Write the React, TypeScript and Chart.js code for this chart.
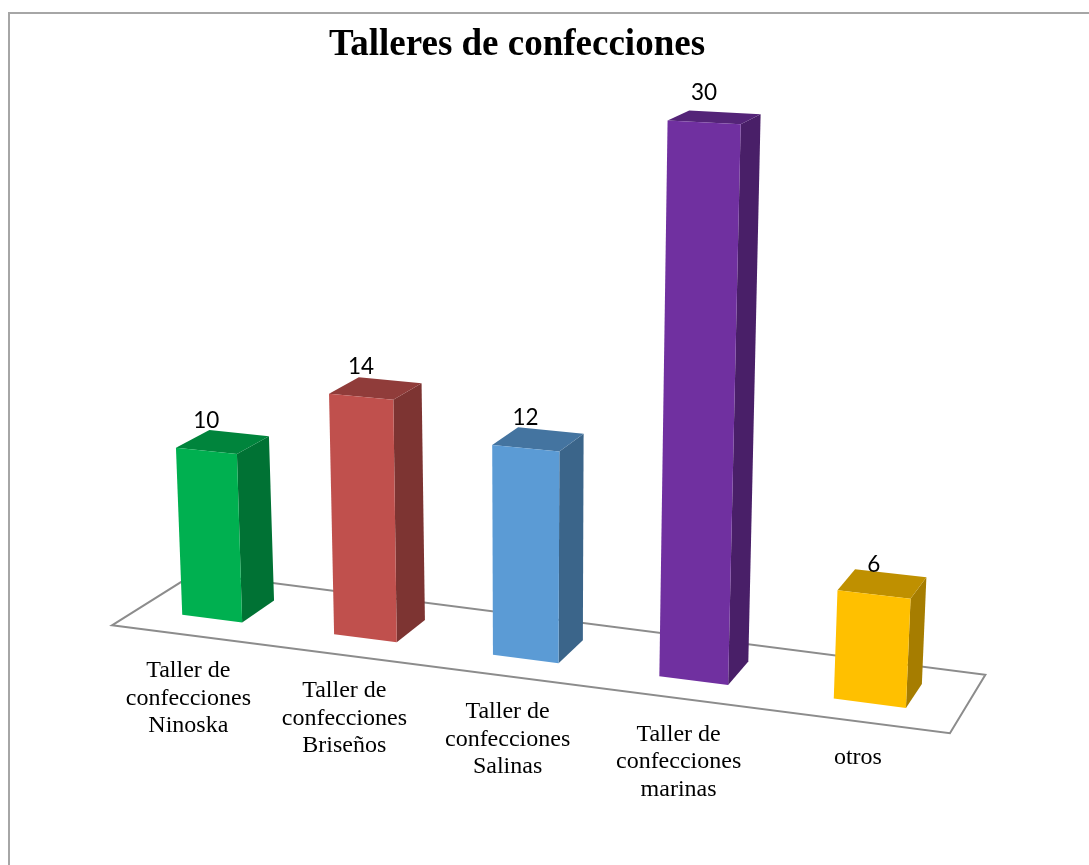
import React, { useEffect, useRef } from "react";
import { Chart, registerables } from "chart.js";

Chart.register(...registerables);

const chartTitle = "Talleres de confecciones";
const categories: string[][] = [
  ["Taller de", "confecciones", "Ninoska"],
  ["Taller de", "confecciones", "Briseños"],
  ["Taller de", "confecciones", "Salinas"],
  ["Taller de", "confecciones", "marinas"],
  ["otros"],
];
const values = [10, 14, 12, 30, 6];
const barColors = ["#00B050", "#C0504D", "#5B9BD5", "#7030A0", "#FFC000"];

type Pt = { x: number; y: number };

// Camera: where the corners of the chart area land on screen, and the depth vanishing point.
const QUAD: Pt[] = [
  { x: 138, y: 609 },
  { x: 961, y: 715 },
  { x: 989, y: 137 },
  { x: 116, y: 92 },
];
const VANISH: Pt = { x: 1570, y: -290 };
const BAR_DEPTH = 0.024;
const FLOOR_FRONT = -0.0182;
const FLOOR_BACK = 0.04;

function makeHomography(q: Pt[]) {
  const [p0, p1, p2, p3] = q;
  const dx1 = p1.x - p2.x, dx2 = p3.x - p2.x, sx = p0.x - p1.x + p2.x - p3.x;
  const dy1 = p1.y - p2.y, dy2 = p3.y - p2.y, sy = p0.y - p1.y + p2.y - p3.y;
  const den = dx1 * dy2 - dx2 * dy1;
  const g = (sx * dy2 - dx2 * sy) / den;
  const h = (dx1 * sy - sx * dy1) / den;
  const a = p1.x - p0.x + g * p1.x, b = p3.x - p0.x + h * p3.x, c = p0.x;
  const d = p1.y - p0.y + g * p1.y, e = p3.y - p0.y + h * p3.y, f = p0.y;
  return (s: number, t: number): Pt => {
    const w = g * s + h * t + 1;
    return { x: (a * s + b * t + c) / w, y: (d * s + e * t + f) / w };
  };
}
const project = makeHomography(QUAD);
const deepen = (p: Pt, k: number): Pt => ({
  x: p.x + k * (VANISH.x - p.x),
  y: p.y + k * (VANISH.y - p.y),
});

function shade(hex: string, f: number) {
  const n = parseInt(hex.slice(1), 16);
  const r = Math.round(((n >> 16) & 255) * f);
  const g = Math.round(((n >> 8) & 255) * f);
  const b = Math.round((n & 255) * f);
  return `rgb(${r},${g},${b})`;
}

function poly(ctx: CanvasRenderingContext2D, pts: Pt[], fill: string) {
  ctx.beginPath();
  pts.forEach((p, i) => (i ? ctx.lineTo(p.x, p.y) : ctx.moveTo(p.x, p.y)));
  ctx.closePath();
  ctx.fillStyle = fill;
  ctx.fill();
}

const perspectiveBars = {
  id: "perspectiveBars",
  beforeDraw(chart: any) {
    const { ctx } = chart;
    ctx.save();
    ctx.strokeStyle = "#A6A6A6";
    ctx.lineWidth = 2;
    ctx.beginPath();
    ctx.moveTo(9, chart.height);
    ctx.lineTo(9, 13);
    ctx.lineTo(chart.width, 13);
    ctx.stroke();
    ctx.restore();
  },
  beforeDatasetDraw(chart: any) {
    const { ctx, chartArea: area, scales } = chart;
    const sOf = (px: number) => (px - area.left) / area.width;
    const tOf = (py: number) => (area.bottom - py) / area.height;

    // floor
    const fl = project(0, 0), fr = project(1, 0);
    const floor = [deepen(fl, FLOOR_FRONT), deepen(fr, FLOOR_FRONT), deepen(fr, FLOOR_BACK), deepen(fl, FLOOR_BACK)];
    ctx.save();
    ctx.strokeStyle = "#8C8C8C";
    ctx.lineWidth = 2;
    ctx.lineJoin = "miter";
    ctx.beginPath();
    floor.forEach((p, i) => (i ? ctx.lineTo(p.x, p.y) : ctx.moveTo(p.x, p.y)));
    ctx.closePath();
    ctx.stroke();

    // bars
    const meta = chart.getDatasetMeta(0);
    meta.data.forEach((bar: any, i: number) => {
      const props = bar.getProps(["x", "y", "base", "width"], true);
      const s0 = sOf(props.x - props.width / 2), s1 = sOf(props.x + props.width / 2);
      const t0 = tOf(props.base), t1 = tOf(props.y);
      const bl = project(s0, t0), br = project(s1, t0), tr = project(s1, t1), tl = project(s0, t1);
      const color = barColors[i];
      poly(ctx, [br, tr, deepen(tr, BAR_DEPTH), deepen(br, BAR_DEPTH)], shade(color, 0.65));
      poly(ctx, [tl, tr, deepen(tr, BAR_DEPTH), deepen(tl, BAR_DEPTH)], shade(color, 0.75));
      poly(ctx, [bl, br, tr, tl], color);

      // value label
      const top = project(sOf(props.x), t1);
      ctx.font = "22.5px Lato";
      ctx.fillStyle = "#000";
      ctx.textAlign = "center";
      ctx.textBaseline = "middle";
      ctx.fillText(String(values[i]), top.x, top.y - 30);

      // category label along the floor's front edge
      const anchor = deepen(project(sOf(props.x), 0), FLOOR_FRONT);
      ctx.font = "24px 'Liberation Serif'";
      const lines = scales.x.getLabels()[i] as unknown as string[];
      lines.forEach((line: string, j: number) => {
        ctx.fillText(line, anchor.x + 1, anchor.y + 36 + j * 27.5);
      });
    });
    ctx.restore();
    return false;
  },
};

export default function App() {
  const ref = useRef<HTMLCanvasElement | null>(null);
  useEffect(() => {
    document.body.style.margin = "0";
    const chart = new Chart(ref.current as HTMLCanvasElement, {
      type: "bar",
      data: {
        labels: categories as any,
        datasets: [
          {
            data: values,
            backgroundColor: barColors,
            barPercentage: 0.4,
            categoryPercentage: 1,
          },
        ],
      },
      options: {
        responsive: false,
        animation: false,
        layout: { padding: { right: 55 } },
        scales: {
          x: { display: false },
          y: { display: false, min: 0, max: 30 },
        },
        plugins: {
          legend: { display: false },
          tooltip: { enabled: false },
          title: {
            display: true,
            text: chartTitle,
            color: "#000",
            font: { family: "'Liberation Serif'", size: 37, weight: "bold" },
            padding: { top: 23, bottom: 0 },
          },
        },
      },
      plugins: [perspectiveBars],
    } as any);
    return () => chart.destroy();
  }, []);
  return (
    <div style={{ position: "absolute", left: 0, top: 0, width: 1089, height: 865, background: "#fff" }}>
      <canvas ref={ref} width={1089} height={865} style={{ display: "block" }} />
    </div>
  );
}
